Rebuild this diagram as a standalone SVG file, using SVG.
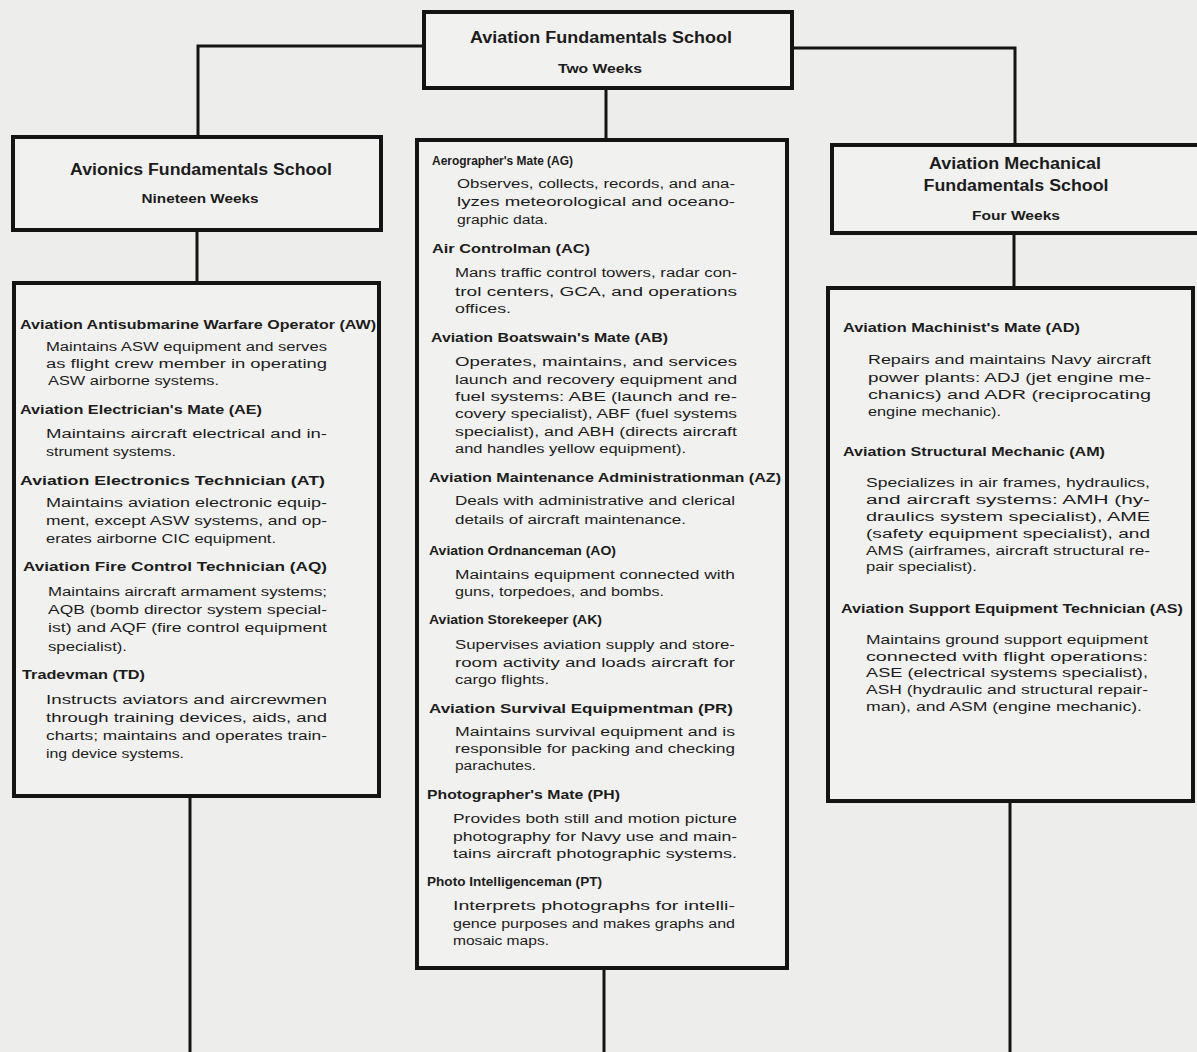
<svg xmlns="http://www.w3.org/2000/svg" width="1197" height="1052" viewBox="0 0 1197 1052">
<style>
.bg{fill:#ededeb}
.box{fill:#f1f1ef;stroke:#141414;stroke-width:4}
.conn{fill:none;stroke:#141414;stroke-width:3}
text{font-family:"Liberation Sans",Arial,sans-serif;fill:#1c1c1c}
.t{font-size:16px;font-weight:bold;text-anchor:middle}
.w{font-size:12.5px;font-weight:bold;text-anchor:middle}
.h{font-size:12.5px;font-weight:bold}
.b{font-size:12.5px}
</style>
<rect class="bg" x="0" y="0" width="1197" height="1052"/>
<g id="connectors">
<path class="conn" d="M424 46 H198 V137"/>
<path class="conn" d="M792 48 H1015 V145"/>
<path class="conn" d="M606 88 V140"/>
<path class="conn" d="M197 230 V283"/>
<path class="conn" d="M1014 233 V288"/>
<path class="conn" d="M190 796 V1052"/>
<path class="conn" d="M604 968 V1052"/>
<path class="conn" d="M1010 801 V1052"/>
</g>
<g id="aviation-fundamentals">
<rect class="box" x="424" y="12" width="368" height="76"/>
<text class="t" x="601" y="43" textLength="262" lengthAdjust="spacingAndGlyphs">Aviation Fundamentals School</text>
<text class="w" x="600" y="73" textLength="84" lengthAdjust="spacingAndGlyphs">Two Weeks</text>
</g>
<g id="avionics-fundamentals">
<rect class="box" x="13" y="137" width="368" height="93"/>
<text class="t" x="201" y="175" textLength="262" lengthAdjust="spacingAndGlyphs">Avionics Fundamentals School</text>
<text class="w" x="200" y="203" textLength="117" lengthAdjust="spacingAndGlyphs">Nineteen Weeks</text>
</g>
<g id="mechanical-fundamentals">
<rect class="box" x="832" y="145" width="370" height="88"/>
<text class="t" x="1015" y="169" textLength="172" lengthAdjust="spacingAndGlyphs">Aviation Mechanical</text>
<text class="t" x="1016" y="191" textLength="185" lengthAdjust="spacingAndGlyphs">Fundamentals School</text>
<text class="w" x="1016" y="220" textLength="88" lengthAdjust="spacingAndGlyphs">Four Weeks</text>
</g>
<g id="avionics-ratings">
<rect class="box" x="14" y="283" width="365" height="513"/>
<text class="h" x="20" y="329" textLength="356" lengthAdjust="spacingAndGlyphs">Aviation Antisubmarine Warfare Operator (AW)</text>
<text class="b" x="46" y="351" textLength="281" lengthAdjust="spacingAndGlyphs">Maintains ASW equipment and serves</text>
<text class="b" x="46" y="368" textLength="281" lengthAdjust="spacingAndGlyphs">as flight crew member in operating</text>
<text class="b" x="48" y="385" textLength="171" lengthAdjust="spacingAndGlyphs">ASW airborne systems.</text>
<text class="h" x="20" y="414" textLength="242" lengthAdjust="spacingAndGlyphs">Aviation Electrician's Mate (AE)</text>
<text class="b" x="46" y="438" textLength="281" lengthAdjust="spacingAndGlyphs">Maintains aircraft electrical and in-</text>
<text class="b" x="46" y="456" textLength="130" lengthAdjust="spacingAndGlyphs">strument systems.</text>
<text class="h" x="20" y="485" textLength="305" lengthAdjust="spacingAndGlyphs">Aviation Electronics Technician (AT)</text>
<text class="b" x="46" y="507" textLength="281" lengthAdjust="spacingAndGlyphs">Maintains aviation electronic equip-</text>
<text class="b" x="46" y="525" textLength="281" lengthAdjust="spacingAndGlyphs">ment, except ASW systems, and op-</text>
<text class="b" x="46" y="543" textLength="230" lengthAdjust="spacingAndGlyphs">erates airborne CIC equipment.</text>
<text class="h" x="23" y="571" textLength="304" lengthAdjust="spacingAndGlyphs">Aviation Fire Control Technician (AQ)</text>
<text class="b" x="48" y="596" textLength="279" lengthAdjust="spacingAndGlyphs">Maintains aircraft armament systems;</text>
<text class="b" x="48" y="614" textLength="279" lengthAdjust="spacingAndGlyphs">AQB (bomb director system special-</text>
<text class="b" x="48" y="632" textLength="279" lengthAdjust="spacingAndGlyphs">ist) and AQF (fire control equipment</text>
<text class="b" x="48" y="651" textLength="79" lengthAdjust="spacingAndGlyphs">specialist).</text>
<text class="h" x="22" y="679" textLength="123" lengthAdjust="spacingAndGlyphs">Tradevman (TD)</text>
<text class="b" x="46" y="704" textLength="281" lengthAdjust="spacingAndGlyphs">Instructs aviators and aircrewmen</text>
<text class="b" x="46" y="722" textLength="281" lengthAdjust="spacingAndGlyphs">through training devices, aids, and</text>
<text class="b" x="46" y="740" textLength="281" lengthAdjust="spacingAndGlyphs">charts; maintains and operates train-</text>
<text class="b" x="46" y="758" textLength="138" lengthAdjust="spacingAndGlyphs">ing device systems.</text>
</g>
<g id="general-ratings">
<rect class="box" x="417" y="140" width="370" height="828"/>
<text class="h" x="432" y="165" textLength="141" lengthAdjust="spacingAndGlyphs">Aerographer's Mate (AG)</text>
<text class="b" x="457" y="188" textLength="278" lengthAdjust="spacingAndGlyphs">Observes, collects, records, and ana-</text>
<text class="b" x="457" y="206" textLength="278" lengthAdjust="spacingAndGlyphs">lyzes meteorological and oceano-</text>
<text class="b" x="457" y="224" textLength="91" lengthAdjust="spacingAndGlyphs">graphic data.</text>
<text class="h" x="432" y="253" textLength="158" lengthAdjust="spacingAndGlyphs">Air Controlman (AC)</text>
<text class="b" x="455" y="277" textLength="282" lengthAdjust="spacingAndGlyphs">Mans traffic control towers, radar con-</text>
<text class="b" x="455" y="296" textLength="282" lengthAdjust="spacingAndGlyphs">trol centers, GCA, and operations</text>
<text class="b" x="455" y="313" textLength="56" lengthAdjust="spacingAndGlyphs">offices.</text>
<text class="h" x="431" y="342" textLength="237" lengthAdjust="spacingAndGlyphs">Aviation Boatswain's Mate (AB)</text>
<text class="b" x="455" y="366" textLength="282" lengthAdjust="spacingAndGlyphs">Operates, maintains, and services</text>
<text class="b" x="455" y="384" textLength="282" lengthAdjust="spacingAndGlyphs">launch and recovery equipment and</text>
<text class="b" x="455" y="401" textLength="282" lengthAdjust="spacingAndGlyphs">fuel systems: ABE (launch and re-</text>
<text class="b" x="455" y="418" textLength="282" lengthAdjust="spacingAndGlyphs">covery specialist), ABF (fuel systems</text>
<text class="b" x="455" y="436" textLength="282" lengthAdjust="spacingAndGlyphs">specialist), and ABH (directs aircraft</text>
<text class="b" x="455" y="453" textLength="231" lengthAdjust="spacingAndGlyphs">and handles yellow equipment).</text>
<text class="h" x="429" y="482" textLength="352" lengthAdjust="spacingAndGlyphs">Aviation Maintenance Administrationman (AZ)</text>
<text class="b" x="455" y="505" textLength="280" lengthAdjust="spacingAndGlyphs">Deals with administrative and clerical</text>
<text class="b" x="455" y="524" textLength="231" lengthAdjust="spacingAndGlyphs">details of aircraft maintenance.</text>
<text class="h" x="429" y="555" textLength="187" lengthAdjust="spacingAndGlyphs">Aviation Ordnanceman (AO)</text>
<text class="b" x="455" y="579" textLength="280" lengthAdjust="spacingAndGlyphs">Maintains equipment connected with</text>
<text class="b" x="455" y="596" textLength="209" lengthAdjust="spacingAndGlyphs">guns, torpedoes, and bombs.</text>
<text class="h" x="429" y="624" textLength="173" lengthAdjust="spacingAndGlyphs">Aviation Storekeeper (AK)</text>
<text class="b" x="455" y="649" textLength="280" lengthAdjust="spacingAndGlyphs">Supervises aviation supply and store-</text>
<text class="b" x="455" y="667" textLength="280" lengthAdjust="spacingAndGlyphs">room activity and loads aircraft for</text>
<text class="b" x="455" y="684" textLength="94" lengthAdjust="spacingAndGlyphs">cargo flights.</text>
<text class="h" x="429" y="713" textLength="304" lengthAdjust="spacingAndGlyphs">Aviation Survival Equipmentman (PR)</text>
<text class="b" x="455" y="736" textLength="280" lengthAdjust="spacingAndGlyphs">Maintains survival equipment and is</text>
<text class="b" x="455" y="753" textLength="280" lengthAdjust="spacingAndGlyphs">responsible for packing and checking</text>
<text class="b" x="455" y="770" textLength="81" lengthAdjust="spacingAndGlyphs">parachutes.</text>
<text class="h" x="427" y="799" textLength="193" lengthAdjust="spacingAndGlyphs">Photographer's Mate (PH)</text>
<text class="b" x="453" y="823" textLength="284" lengthAdjust="spacingAndGlyphs">Provides both still and motion picture</text>
<text class="b" x="453" y="841" textLength="284" lengthAdjust="spacingAndGlyphs">photography for Navy use and main-</text>
<text class="b" x="453" y="858" textLength="284" lengthAdjust="spacingAndGlyphs">tains aircraft photographic systems.</text>
<text class="h" x="427" y="886" textLength="175" lengthAdjust="spacingAndGlyphs">Photo Intelligenceman (PT)</text>
<text class="b" x="453" y="910" textLength="282" lengthAdjust="spacingAndGlyphs">Interprets photographs for intelli-</text>
<text class="b" x="453" y="928" textLength="282" lengthAdjust="spacingAndGlyphs">gence purposes and makes graphs and</text>
<text class="b" x="453" y="945" textLength="96" lengthAdjust="spacingAndGlyphs">mosaic maps.</text>
</g>
<g id="mechanical-ratings">
<rect class="box" x="828" y="288" width="365" height="513"/>
<text class="h" x="843" y="332" textLength="237" lengthAdjust="spacingAndGlyphs">Aviation Machinist's Mate (AD)</text>
<text class="b" x="868" y="364" textLength="283" lengthAdjust="spacingAndGlyphs">Repairs and maintains Navy aircraft</text>
<text class="b" x="868" y="382" textLength="283" lengthAdjust="spacingAndGlyphs">power plants: ADJ (jet engine me-</text>
<text class="b" x="868" y="399" textLength="283" lengthAdjust="spacingAndGlyphs">chanics) and ADR (reciprocating</text>
<text class="b" x="868" y="416" textLength="133" lengthAdjust="spacingAndGlyphs">engine mechanic).</text>
<text class="h" x="843" y="456" textLength="262" lengthAdjust="spacingAndGlyphs">Aviation Structural Mechanic (AM)</text>
<text class="b" x="866" y="487" textLength="284" lengthAdjust="spacingAndGlyphs">Specializes in air frames, hydraulics,</text>
<text class="b" x="866" y="504" textLength="284" lengthAdjust="spacingAndGlyphs">and aircraft systems: AMH (hy-</text>
<text class="b" x="866" y="521" textLength="284" lengthAdjust="spacingAndGlyphs">draulics system specialist), AME</text>
<text class="b" x="866" y="538" textLength="284" lengthAdjust="spacingAndGlyphs">(safety equipment specialist), and</text>
<text class="b" x="866" y="555" textLength="284" lengthAdjust="spacingAndGlyphs">AMS (airframes, aircraft structural re-</text>
<text class="b" x="866" y="571" textLength="111" lengthAdjust="spacingAndGlyphs">pair specialist).</text>
<text class="h" x="841" y="613" textLength="342" lengthAdjust="spacingAndGlyphs">Aviation Support Equipment Technician (AS)</text>
<text class="b" x="866" y="644" textLength="282" lengthAdjust="spacingAndGlyphs">Maintains ground support equipment</text>
<text class="b" x="866" y="661" textLength="282" lengthAdjust="spacingAndGlyphs">connected with flight operations:</text>
<text class="b" x="866" y="677" textLength="282" lengthAdjust="spacingAndGlyphs">ASE (electrical systems specialist),</text>
<text class="b" x="866" y="694" textLength="282" lengthAdjust="spacingAndGlyphs">ASH (hydraulic and structural repair-</text>
<text class="b" x="866" y="711" textLength="276" lengthAdjust="spacingAndGlyphs">man), and ASM (engine mechanic).</text>
</g>
</svg>
